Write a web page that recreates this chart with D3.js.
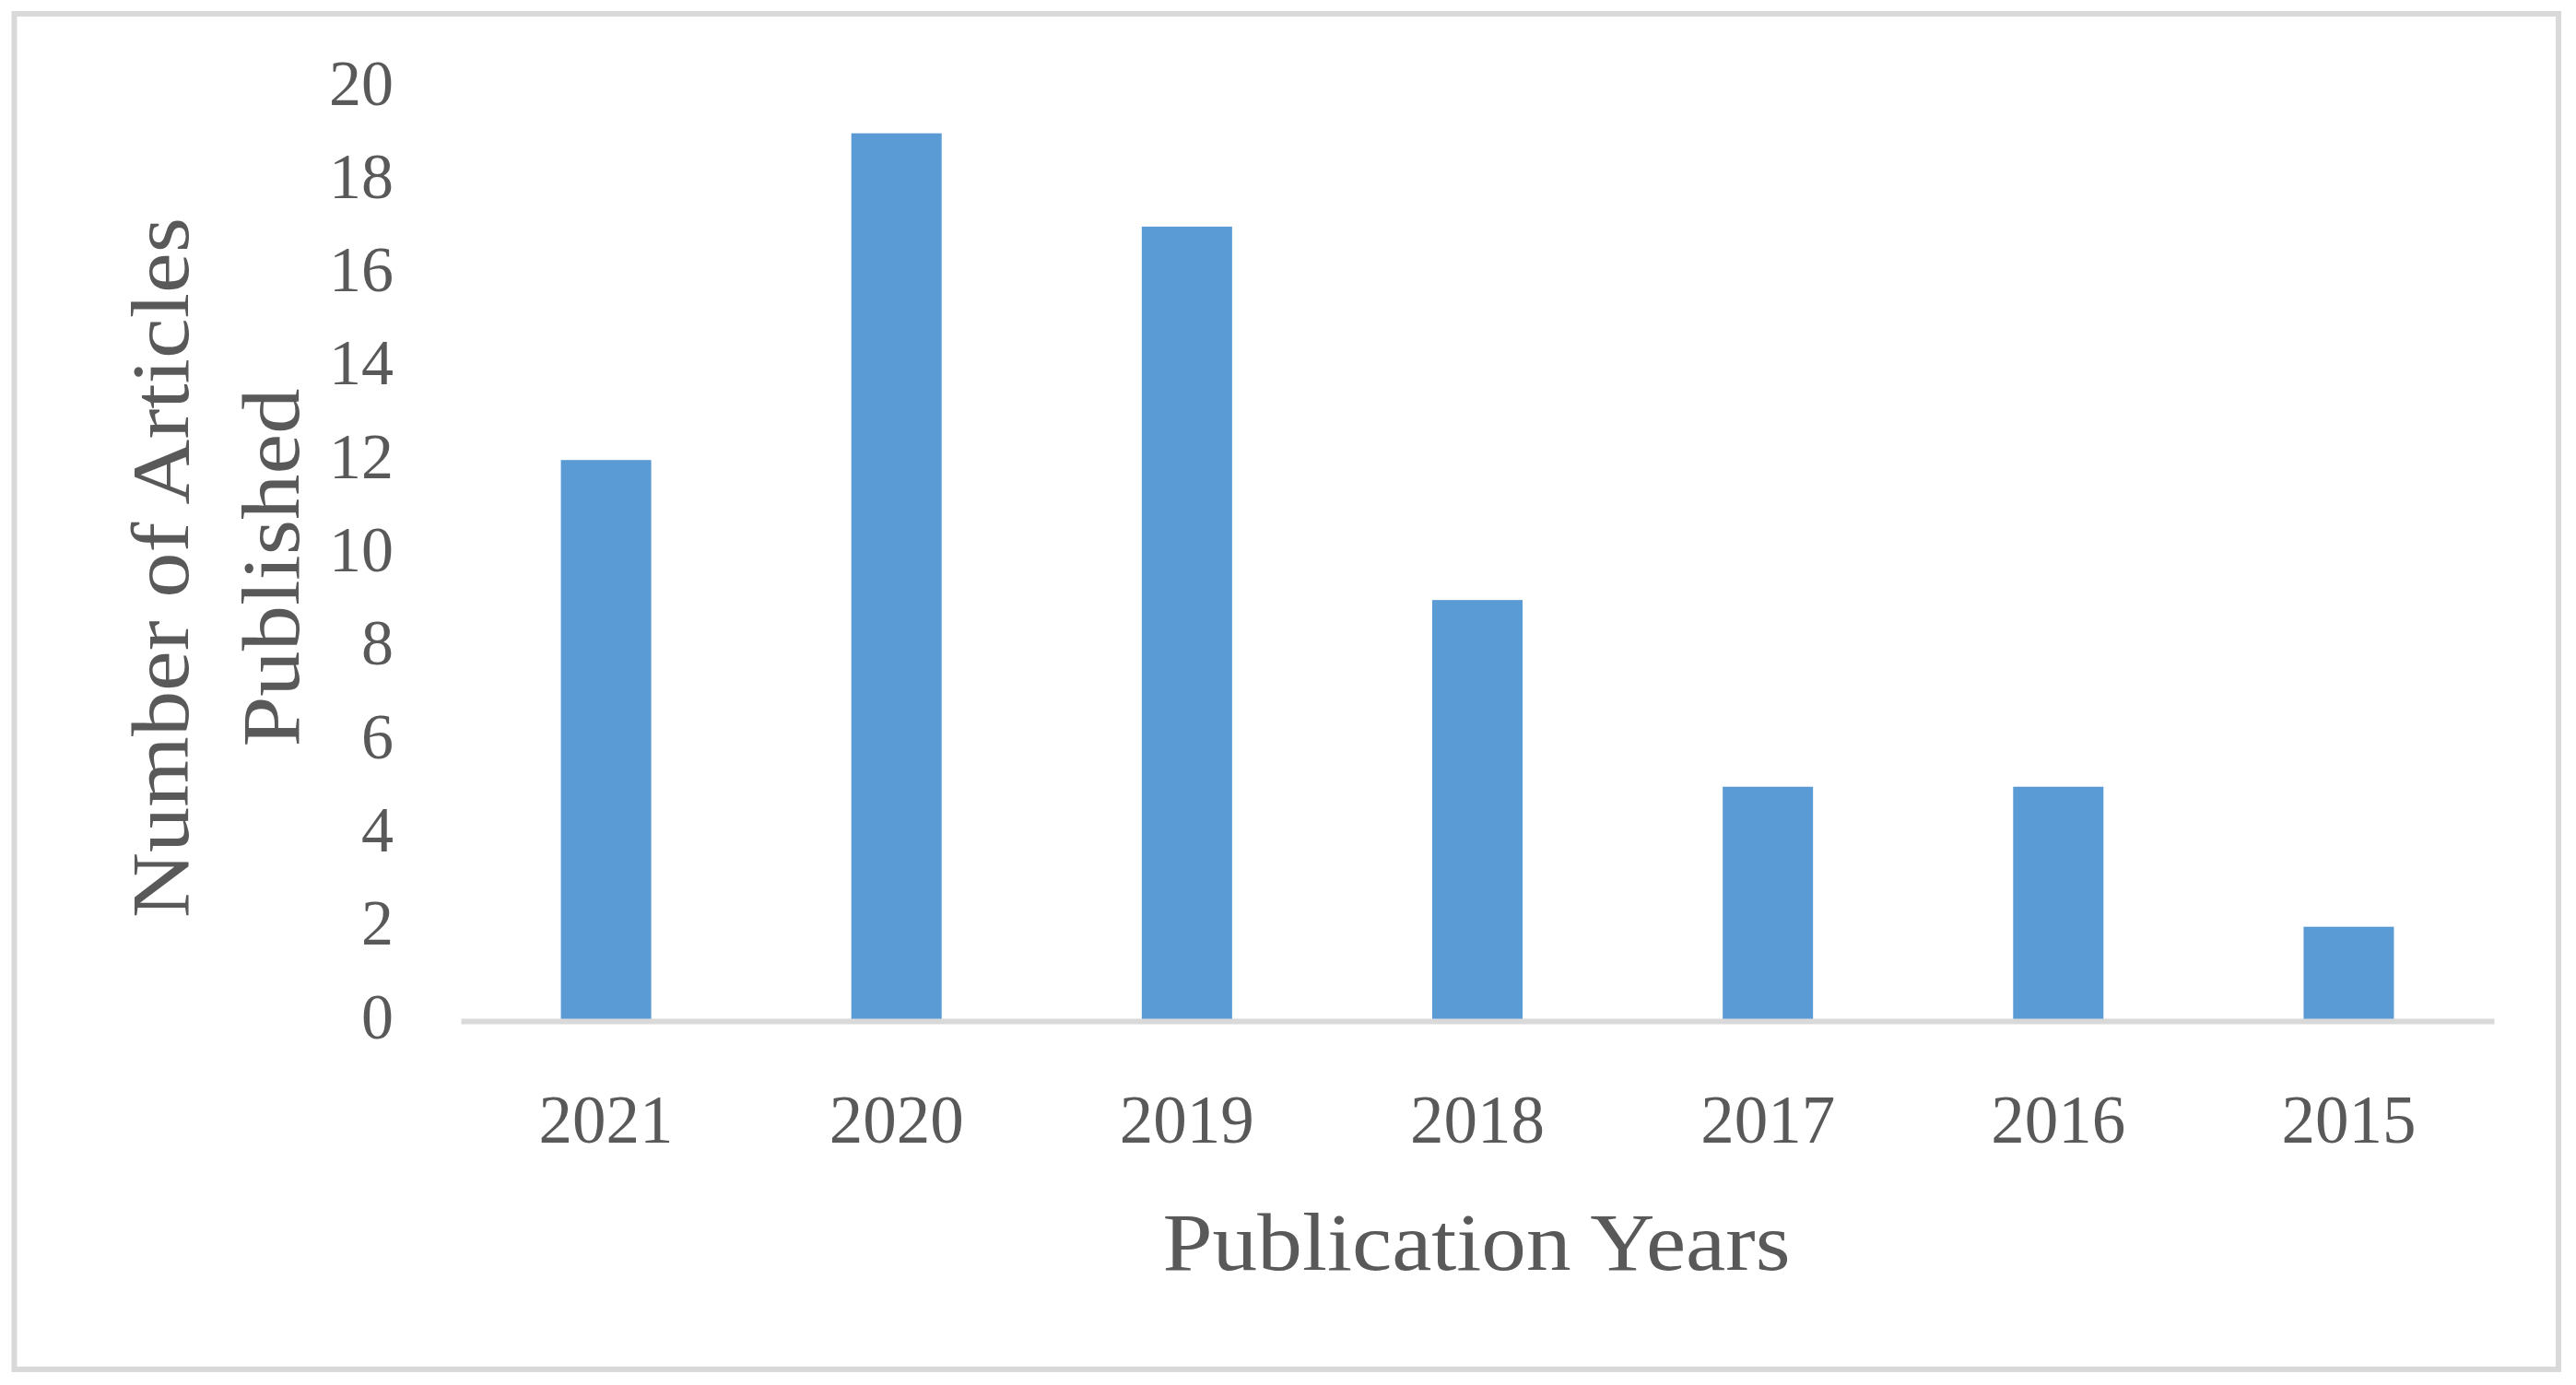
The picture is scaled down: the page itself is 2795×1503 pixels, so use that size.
<!DOCTYPE html>
<html>
<head>
<meta charset="utf-8">
<script src="https://cdn.jsdelivr.net/npm/d3@7/dist/d3.min.js"></script>
<style>
  html, body { margin: 0; padding: 0; background: #ffffff; }
  svg { display: block; }
</style>
</head>
<body>
<script>
const years = ["2021", "2020", "2019", "2018", "2017", "2016", "2015"];
const articles = [12, 19, 17, 9, 5, 5, 2];
const yTicks = [0, 2, 4, 6, 8, 10, 12, 14, 16, 18, 20];
const xTitle = "Publication Years";
const yTitleLines = ["Number of Articles", "Published"];

const W = 2795, H = 1503;
const FONT = "'Liberation Serif', 'DejaVu Serif', serif";
const TEXT = "#595959";
const GRID = "#d9d9d9";
const BAR = "#5b9bd5";

const svg = d3.select("body").append("svg")
  .attr("width", W).attr("height", H);

svg.append("rect").attr("width", W).attr("height", H).attr("fill", "#fff");

// outer chart border
svg.append("rect")
  .attr("x", 15.5).attr("y", 15).attr("width", 2760.5).attr("height", 1471)
  .attr("fill", "none").attr("stroke", GRID).attr("stroke-width", 6);

const x = d3.scaleBand().domain(years).range([500, 2706])
  .paddingInner(0.689).paddingOuter(0.3445);
const y = d3.scaleLinear().domain([0, 20]).range([1107, 94]);

// bars
svg.append("g").selectAll("rect").data(years).join("rect")
  .attr("x", d => x(d))
  .attr("width", x.bandwidth())
  .attr("y", (d, i) => y(articles[i]))
  .attr("height", (d, i) => y(0) - y(articles[i]))
  .attr("fill", BAR);

// x axis line
const xAxis = d3.axisBottom(x).tickSize(0).tickPadding(0);
const gx = svg.append("g").attr("transform", "translate(0,1108)").call(xAxis);
gx.select(".domain").attr("stroke", GRID).attr("stroke-width", 6);
gx.selectAll(".tick text")
  .attr("y", 132).attr("dy", null)
  .attr("fill", TEXT)
  .style("font-family", FONT).style("font-size", "73px");

// y axis labels
const yAxis = d3.axisLeft(y).tickValues(yTicks).tickSize(0).tickPadding(73);
const gy = svg.append("g").attr("transform", "translate(500,0)").call(yAxis);
gy.select(".domain").remove();
gy.selectAll(".tick text")
  .attr("dy", null).attr("y", 19)
  .attr("fill", TEXT)
  .style("font-family", FONT).style("font-size", "70px");

// x axis title
svg.append("text")
  .attr("x", 1602).attr("y", 1378)
  .attr("text-anchor", "middle")
  .attr("fill", TEXT)
  .style("font-family", FONT).style("font-size", "88px")
  .attr("textLength", 681).attr("lengthAdjust", "spacingAndGlyphs")
  .text(xTitle);

// y axis title (two lines, rotated)
const yLens = [760, 389];
const yBase = [204, 324];
yTitleLines.forEach((t, i) => {
  svg.append("text")
    .attr("transform", `translate(${yBase[i]},616) rotate(-90)`)
    .attr("text-anchor", "middle")
    .attr("fill", TEXT)
    .style("font-family", FONT).style("font-size", "88px")
    .attr("textLength", yLens[i]).attr("lengthAdjust", "spacingAndGlyphs")
    .text(t);
});
</script>
</body>
</html>
